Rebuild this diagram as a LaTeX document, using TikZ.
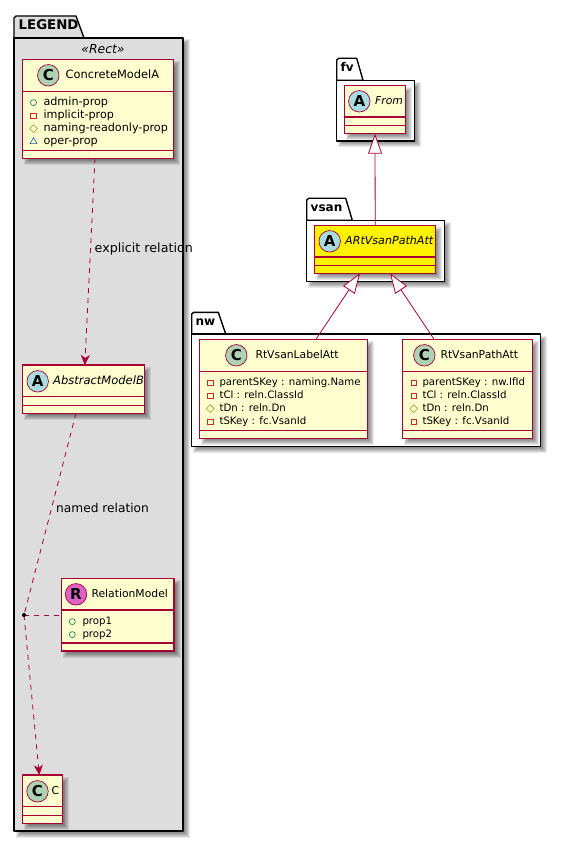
\documentclass[tikz,border=0pt]{standalone}
\usepackage{fontspec}
\setmainfont{DejaVu Sans}
\usetikzlibrary{arrows.meta,shapes.geometric}
\definecolor{umlred}{HTML}{A80036}
\definecolor{umlfill}{HTML}{FEFECE}
\definecolor{legendgray}{HTML}{DDDDDD}
\definecolor{spotC}{HTML}{ADD1B2}
\definecolor{spotA}{HTML}{A9DCDF}
\definecolor{spotR}{HTML}{DD62C6}
\definecolor{pubgreen}{HTML}{038048}
\definecolor{privred}{HTML}{C82930}
\definecolor{protgold}{HTML}{B38D22}
\definecolor{pkgblue}{HTML}{1963A0}
\tikzset{
  modelnode/.style={draw=umlred,line width=1.2pt,fill=umlfill,inner sep=0pt,outer sep=0pt},
  divider/.style={draw=umlred,line width=1.2pt},
  spot/.style={circle,draw=umlred,line width=0.7pt,minimum size=21.5pt,inner sep=0pt,font=\fontsize{15}{15}\bfseries},
  modelname/.style={anchor=mid west,inner sep=0pt,font=\fontsize{10.8}{12}\selectfont},
  abstractname/.style={modelname,font=\fontsize{11.1}{12}\itshape},
  proptext/.style={anchor=mid west,inner sep=0pt,font=\fontsize{10.2}{12}\selectfont},
  pubprop/.style={circle,draw=pubgreen,line width=0.6pt,minimum size=6pt,inner sep=0pt},
  privprop/.style={rectangle,draw=privred,line width=0.6pt,minimum size=5.5pt,inner sep=0pt},
  protprop/.style={diamond,draw=protgold,line width=0.6pt,minimum size=8pt,inner sep=0pt},
  pkgprop/.style={regular polygon,regular polygon sides=3,draw=pkgblue,line width=0.6pt,minimum size=8pt,inner sep=0pt},
  pkgline/.style={draw=black,line width=1.4pt,line join=round},
  pkgname/.style={anchor=mid west,inner sep=0pt,font=\fontsize{12}{14}\bfseries},
  relline/.style={draw=umlred,line width=0.8pt},
  reldash/.style={relline,dash pattern=on 5pt off 5pt},
  openhead/.style={-{Stealth[inset=3pt,length=10pt,width=9pt,fill=umlred]}},
  inherit/.style={-{Triangle[length=20pt,width=14pt,fill=white]}},
  rellabel/.style={anchor=mid west,inner sep=0pt,font=\fontsize{12.2}{14}\selectfont},
}
% soft shadow under a box
\newcommand{\softshade}[4]{
  \foreach \e in {-2.5,-1.5,-0.5,0.5,1.5,2.5}
    \fill[black,opacity=0.09] ({#1+4-\e},{#2+4-\e}) rectangle ({#3+4+\e},{#4+4+\e});
}
% model box: name, x0, y0, x1, y1, lower divider, fill
\newcommand{\modelbox}[7]{
  \softshade{#2}{#3}{#4}{#5}
  \node[modelnode,fill=#7,minimum width={(#4-#2)*1pt},minimum height={(#5-#3)*1pt}] (#1) at ({(#2+#4)/2},{(#3+#5)/2}) {};
  \draw[divider] (#2,{#3+31.7}) -- (#4,{#3+31.7});
  \draw[divider] (#2,#6) -- (#4,#6);
}
% member row: name, icon style, icon x, text x, y, text
\newcommand{\proprow}[6]{
  \node[#2] (#1icon) at (#3,#5) {};
  \node[proptext] (#1) at (#4,#5) {#6};
}
\begin{document}
\begin{tikzpicture}[x=1pt,y=-1pt]
  \useasboundingbox (0,0) rectangle (561,842);
  \fill[white] (0,0) rectangle (561,842);

  % LEGEND package
  \softshade{14}{38}{183}{831}
  \draw[pkgline,fill=legendgray] (14,38) -- (14,18) -- (16,16) -- (76,16) -- (84,38) -- cycle;
  \draw[pkgline,fill=legendgray] (14,38) rectangle (183,831);
  \node[pkgname,font=\fontsize{13.3}{14}\bfseries] (legendname) at (18.5,27) {LEGEND};
  \node[font=\fontsize{12.4}{14}\itshape,inner sep=0pt] (legendstereo) at (103,49) {«Rect»};

  % fv package
  \softshade{336.7}{80.3}{414.3}{141}
  \draw[pkgline,fill=white] (336.7,80.3) -- (336.7,60) -- (338.7,58.3) -- (356.7,58.3) -- (363,80.3) -- cycle;
  \draw[pkgline,fill=white] (336.7,80.3) rectangle (414.3,141);
  \node[pkgname] (fvname) at (340.5,69) {fv};

  % vsan package
  \softshade{306.7}{220.3}{444.3}{281.7}
  \draw[pkgline,fill=white] (306.7,220.3) -- (306.7,200) -- (308.7,198.3) -- (345.7,198.3) -- (352.3,220.3) -- cycle;
  \draw[pkgline,fill=white] (306.7,220.3) rectangle (444.3,281.7);
  \node[pkgname] (vsanname) at (310.5,209) {vsan};

  % nw package
  \softshade{191.7}{334}{540.7}{446.7}
  \draw[pkgline,fill=white] (191.7,334) -- (191.7,314) -- (193.7,312.3) -- (218.3,312.3) -- (225.7,334) -- cycle;
  \draw[pkgline,fill=white] (191.7,334) rectangle (540.7,446.7);
  \node[pkgname] (nwname) at (195.5,323) {nw};

  % Legend models
  \modelbox{concreteA}{22.3}{59.7}{173.7}{158.3}{150.7}{umlfill}
  \node[spot,fill=spotC] (concreteAspot) at (48.3,75.3) {C};
  \node[modelname,font=\fontsize{11.4}{12}\selectfont] (concreteAname) at (65.5,75.8) {ConcreteModelA};
  \proprow{adminprop}{pubprop}{33.5}{43.3}{102.6}{\fontsize{11.2}{12}\selectfont admin-prop}
  \proprow{implicitprop}{privprop}{33.5}{43.3}{115.6}{\fontsize{11.2}{12}\selectfont implicit-prop}
  \proprow{namingprop}{protprop}{33.5}{43.3}{128.6}{\fontsize{11.2}{12}\selectfont naming-readonly-prop}
  \proprow{operprop}{pkgprop}{33.5}{43.3}{141.6}{\fontsize{11.2}{12}\selectfont oper-prop}

  \modelbox{abstractB}{22.3}{365}{144.3}{413.3}{405.5}{umlfill}
  \node[spot,fill=spotA] (abstractBspot) at (37.7,381.3) {A};
  \node[abstractname,font=\fontsize{11.5}{12}\itshape] (abstractBname) at (53,381.8) {AbstractModelB};

  \modelbox{relationR}{61.3}{578.3}{174}{651}{643}{umlfill}
  \node[spot,fill=spotR] (relationRspot) at (76,594.3) {R};
  \node[modelname] (relationRname) at (91.3,594.8) {RelationModel};
  \proprow{propone}{pubprop}{72.3}{82.3}{621.6}{prop1}
  \proprow{proptwo}{pubprop}{72.3}{82.3}{634.6}{prop2}

  \modelbox{plainC}{22.3}{775}{62.3}{823.7}{815.7}{umlfill}
  \node[spot,fill=spotC] (plainCspot) at (37.5,791.3) {C};
  \node[modelname] (plainCname) at (51.5,791.8) {C};

  % Right hand models
  \modelbox{fromA}{344.3}{85.3}{405.7}{133.7}{125.7}{umlfill}
  \node[spot,fill=spotA] (fromAspot) at (359.3,101.3) {A};
  \node[abstractname,font=\fontsize{10.8}{12}\itshape] (fromAname) at (375,101.8) {From};

  \modelbox{artvsan}{314.7}{225.3}{435.7}{273.3}{265.7}{yellow}
  \node[spot,fill=spotA] (artvsanspot) at (329.7,241.3) {A};
  \node[abstractname] (artvsanname) at (345,241.8) {ARtVsanPathAtt};

  \modelbox{labelatt}{199.3}{339.7}{367.3}{438.3}{430.3}{umlfill}
  \node[spot,fill=spotC] (labelattspot) at (236.3,355.3) {C};
  \node[modelname] (labelattname) at (255.3,355.8) {RtVsanLabelAtt};
  \proprow{labelparent}{privprop}{210.3}{219.3}{382.6}{parentSKey : naming.Name}
  \proprow{labeltcl}{privprop}{210.3}{219.3}{395.6}{tCl : reln.ClassId}
  \proprow{labeltdn}{protprop}{210.3}{219.3}{408.6}{tDn : reln.Dn}
  \proprow{labeltskey}{privprop}{210.3}{219.3}{421.6}{tSKey : fc.VsanId}

  \modelbox{pathatt}{402.3}{339.7}{532.3}{438.3}{430.3}{umlfill}
  \node[spot,fill=spotC] (pathattspot) at (424.3,355.3) {C};
  \node[modelname] (pathattname) at (440.3,355.8) {RtVsanPathAtt};
  \proprow{pathparent}{privprop}{413.7}{422.3}{382.6}{parentSKey : nw.IfId}
  \proprow{pathtcl}{privprop}{413.7}{422.3}{395.6}{tCl : reln.ClassId}
  \proprow{pathtdn}{protprop}{413.7}{422.3}{408.6}{tDn : reln.Dn}
  \proprow{pathtskey}{privprop}{413.7}{422.3}{421.6}{tSKey : fc.VsanId}

  % Relations in the legend
  \draw[reldash,openhead] ([xshift=-3pt]concreteA.south) -- ([xshift=1.5pt]abstractB.north);
  \node[rellabel,font=\fontsize{12.7}{14}\selectfont] (explicitlabel) at (94.5,249.5) {explicit relation};
  \coordinate (reljoin) at (24,615);
  \draw[reldash] ([xshift=-7.3pt]abstractB.south) -- (reljoin);
  \draw[reldash,openhead] (reljoin) -- ([xshift=-3pt]plainC.north);
  \draw[reldash] (reljoin) -- (reljoin -| relationR.west);
  \node[circle,fill=black,inner sep=0pt,minimum size=4pt] (reldot) at (reljoin) {};
  \node[rellabel] (namedlabel) at (56,509.5) {named relation};

  % Inheritance
  \draw[relline,inherit] (artvsan.north) -- (fromA.south);
  \draw[relline,inherit] ([xshift=32.4pt]labelatt.north) -- ([xshift=-15.2pt]artvsan.south);
  \draw[relline,inherit] ([xshift=-33pt]pathatt.north) -- ([xshift=14.8pt]artvsan.south);
\end{tikzpicture}
\end{document}
